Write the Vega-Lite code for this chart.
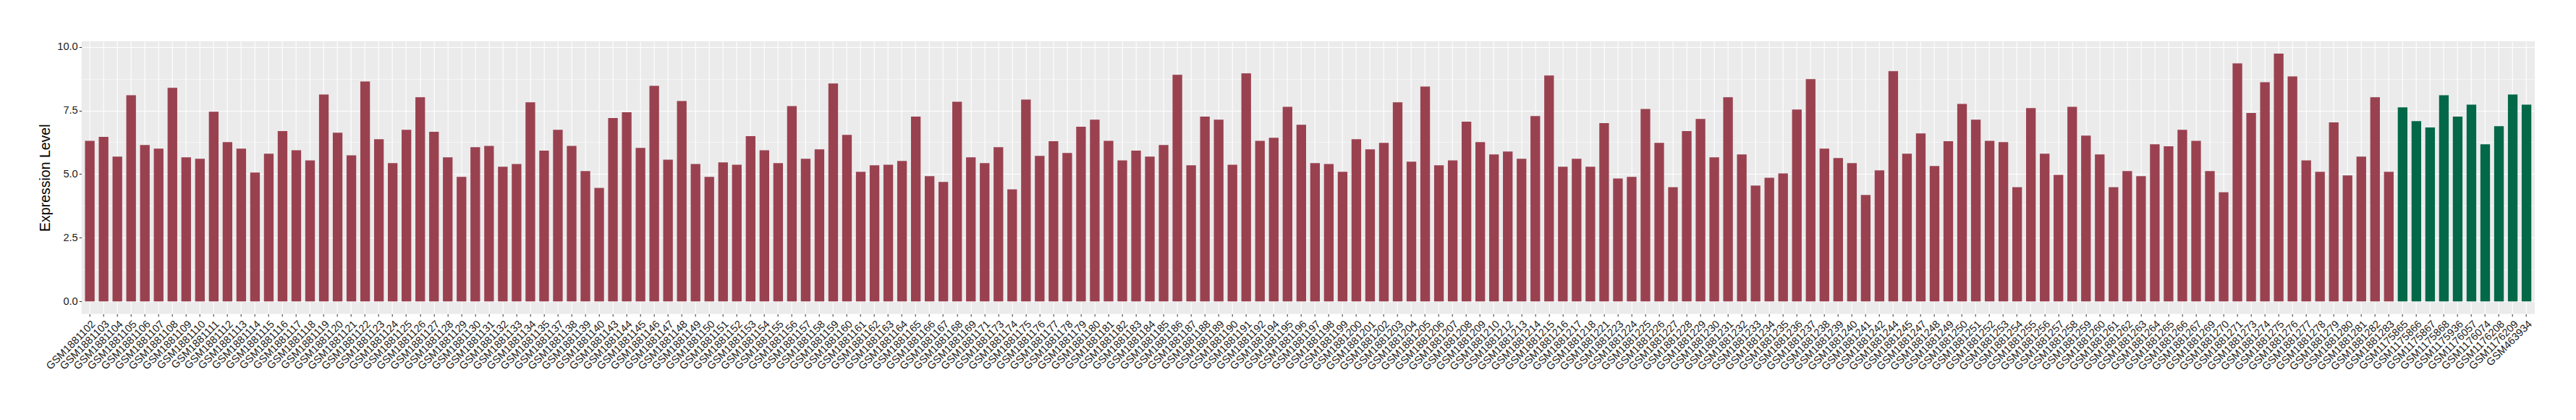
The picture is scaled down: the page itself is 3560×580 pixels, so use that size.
{
"$schema": "https://vega.github.io/schema/vega-lite/v6.json",
"autosize": "none",
"width": 3390.3,
"height": 376.4,
"padding": {"left": 112.7, "top": 57, "right": 57, "bottom": 146.6},
"background": "white",
"config": {"font": "Liberation Sans", "view": {"fill": "#EBEBEB", "stroke": null}},
"data": {"values": [
{"sample":"GSM1881102","value":6.31,"group":"A"},{"sample":"GSM1881103","value":6.46,"group":"A"},{"sample":"GSM1881104","value":5.69,"group":"A"},{"sample":"GSM1881105","value":8.10,"group":"A"},{"sample":"GSM1881106","value":6.14,"group":"A"},{"sample":"GSM1881107","value":6.00,"group":"A"},{"sample":"GSM1881108","value":8.39,"group":"A"},{"sample":"GSM1881109","value":5.66,"group":"A"},{"sample":"GSM1881110","value":5.60,"group":"A"},{"sample":"GSM1881111","value":7.45,"group":"A"},
{"sample":"GSM1881112","value":6.26,"group":"A"},{"sample":"GSM1881113","value":6.00,"group":"A"},{"sample":"GSM1881114","value":5.06,"group":"A"},{"sample":"GSM1881115","value":5.80,"group":"A"},{"sample":"GSM1881116","value":6.69,"group":"A"},{"sample":"GSM1881117","value":5.94,"group":"A"},{"sample":"GSM1881118","value":5.54,"group":"A"},{"sample":"GSM1881119","value":8.13,"group":"A"},{"sample":"GSM1881120","value":6.63,"group":"A"},{"sample":"GSM1881121","value":5.74,"group":"A"},
{"sample":"GSM1881122","value":8.64,"group":"A"},{"sample":"GSM1881123","value":6.37,"group":"A"},{"sample":"GSM1881124","value":5.43,"group":"A"},{"sample":"GSM1881125","value":6.74,"group":"A"},{"sample":"GSM1881126","value":8.02,"group":"A"},{"sample":"GSM1881127","value":6.66,"group":"A"},{"sample":"GSM1881128","value":5.66,"group":"A"},{"sample":"GSM1881129","value":4.89,"group":"A"},{"sample":"GSM1881130","value":6.06,"group":"A"},{"sample":"GSM1881131","value":6.11,"group":"A"},
{"sample":"GSM1881132","value":5.29,"group":"A"},{"sample":"GSM1881133","value":5.40,"group":"A"},{"sample":"GSM1881134","value":7.82,"group":"A"},{"sample":"GSM1881135","value":5.92,"group":"A"},{"sample":"GSM1881137","value":6.74,"group":"A"},{"sample":"GSM1881138","value":6.11,"group":"A"},{"sample":"GSM1881139","value":5.12,"group":"A"},{"sample":"GSM1881140","value":4.46,"group":"A"},{"sample":"GSM1881143","value":7.20,"group":"A"},{"sample":"GSM1881144","value":7.43,"group":"A"},
{"sample":"GSM1881145","value":6.03,"group":"A"},{"sample":"GSM1881146","value":8.47,"group":"A"},{"sample":"GSM1881147","value":5.57,"group":"A"},{"sample":"GSM1881148","value":7.87,"group":"A"},{"sample":"GSM1881149","value":5.40,"group":"A"},{"sample":"GSM1881150","value":4.89,"group":"A"},{"sample":"GSM1881151","value":5.46,"group":"A"},{"sample":"GSM1881152","value":5.37,"group":"A"},{"sample":"GSM1881153","value":6.49,"group":"A"},{"sample":"GSM1881154","value":5.94,"group":"A"},
{"sample":"GSM1881155","value":5.43,"group":"A"},{"sample":"GSM1881156","value":7.67,"group":"A"},{"sample":"GSM1881157","value":5.60,"group":"A"},{"sample":"GSM1881158","value":5.97,"group":"A"},{"sample":"GSM1881159","value":8.56,"group":"A"},{"sample":"GSM1881160","value":6.54,"group":"A"},{"sample":"GSM1881161","value":5.09,"group":"A"},{"sample":"GSM1881162","value":5.35,"group":"A"},{"sample":"GSM1881163","value":5.37,"group":"A"},{"sample":"GSM1881164","value":5.52,"group":"A"},
{"sample":"GSM1881165","value":7.26,"group":"A"},{"sample":"GSM1881166","value":4.92,"group":"A"},{"sample":"GSM1881167","value":4.69,"group":"A"},{"sample":"GSM1881168","value":7.84,"group":"A"},{"sample":"GSM1881169","value":5.66,"group":"A"},{"sample":"GSM1881171","value":5.43,"group":"A"},{"sample":"GSM1881173","value":6.06,"group":"A"},{"sample":"GSM1881174","value":4.40,"group":"A"},{"sample":"GSM1881175","value":7.93,"group":"A"},{"sample":"GSM1881176","value":5.72,"group":"A"},
{"sample":"GSM1881177","value":6.29,"group":"A"},{"sample":"GSM1881178","value":5.83,"group":"A"},{"sample":"GSM1881179","value":6.86,"group":"A"},{"sample":"GSM1881180","value":7.14,"group":"A"},{"sample":"GSM1881181","value":6.31,"group":"A"},{"sample":"GSM1881182","value":5.54,"group":"A"},{"sample":"GSM1881183","value":5.92,"group":"A"},{"sample":"GSM1881184","value":5.69,"group":"A"},{"sample":"GSM1881185","value":6.14,"group":"A"},{"sample":"GSM1881186","value":8.90,"group":"A"},
{"sample":"GSM1881187","value":5.35,"group":"A"},{"sample":"GSM1881188","value":7.26,"group":"A"},{"sample":"GSM1881189","value":7.14,"group":"A"},{"sample":"GSM1881190","value":5.37,"group":"A"},{"sample":"GSM1881191","value":8.96,"group":"A"},{"sample":"GSM1881192","value":6.31,"group":"A"},{"sample":"GSM1881194","value":6.43,"group":"A"},{"sample":"GSM1881195","value":7.64,"group":"A"},{"sample":"GSM1881196","value":6.94,"group":"A"},{"sample":"GSM1881197","value":5.43,"group":"A"},
{"sample":"GSM1881198","value":5.40,"group":"A"},{"sample":"GSM1881199","value":5.09,"group":"A"},{"sample":"GSM1881200","value":6.37,"group":"A"},{"sample":"GSM1881201","value":5.97,"group":"A"},{"sample":"GSM1881202","value":6.23,"group":"A"},{"sample":"GSM1881203","value":7.82,"group":"A"},{"sample":"GSM1881204","value":5.49,"group":"A"},{"sample":"GSM1881205","value":8.44,"group":"A"},{"sample":"GSM1881206","value":5.35,"group":"A"},{"sample":"GSM1881207","value":5.54,"group":"A"},
{"sample":"GSM1881208","value":7.06,"group":"A"},{"sample":"GSM1881209","value":6.26,"group":"A"},{"sample":"GSM1881210","value":5.77,"group":"A"},{"sample":"GSM1881212","value":5.89,"group":"A"},{"sample":"GSM1881213","value":5.60,"group":"A"},{"sample":"GSM1881214","value":7.28,"group":"A"},{"sample":"GSM1881215","value":8.87,"group":"A"},{"sample":"GSM1881216","value":5.29,"group":"A"},{"sample":"GSM1881217","value":5.60,"group":"A"},{"sample":"GSM1881218","value":5.29,"group":"A"},
{"sample":"GSM1881221","value":7.00,"group":"A"},{"sample":"GSM1881223","value":4.83,"group":"A"},{"sample":"GSM1881224","value":4.89,"group":"A"},{"sample":"GSM1881225","value":7.56,"group":"A"},{"sample":"GSM1881226","value":6.23,"group":"A"},{"sample":"GSM1881227","value":4.49,"group":"A"},{"sample":"GSM1881228","value":6.69,"group":"A"},{"sample":"GSM1881229","value":7.17,"group":"A"},{"sample":"GSM1881230","value":5.66,"group":"A"},{"sample":"GSM1881231","value":8.02,"group":"A"},
{"sample":"GSM1881232","value":5.77,"group":"A"},{"sample":"GSM1881233","value":4.55,"group":"A"},{"sample":"GSM1881234","value":4.86,"group":"A"},{"sample":"GSM1881235","value":5.03,"group":"A"},{"sample":"GSM1881236","value":7.54,"group":"A"},{"sample":"GSM1881237","value":8.73,"group":"A"},{"sample":"GSM1881238","value":6.00,"group":"A"},{"sample":"GSM1881239","value":5.63,"group":"A"},{"sample":"GSM1881240","value":5.43,"group":"A"},{"sample":"GSM1881241","value":4.18,"group":"A"},
{"sample":"GSM1881242","value":5.15,"group":"A"},{"sample":"GSM1881244","value":9.04,"group":"A"},{"sample":"GSM1881245","value":5.80,"group":"A"},{"sample":"GSM1881247","value":6.60,"group":"A"},{"sample":"GSM1881248","value":5.32,"group":"A"},{"sample":"GSM1881249","value":6.29,"group":"A"},{"sample":"GSM1881250","value":7.76,"group":"A"},{"sample":"GSM1881251","value":7.14,"group":"A"},{"sample":"GSM1881252","value":6.31,"group":"A"},{"sample":"GSM1881253","value":6.26,"group":"A"},
{"sample":"GSM1881254","value":4.49,"group":"A"},{"sample":"GSM1881255","value":7.59,"group":"A"},{"sample":"GSM1881256","value":5.80,"group":"A"},{"sample":"GSM1881257","value":4.97,"group":"A"},{"sample":"GSM1881258","value":7.64,"group":"A"},{"sample":"GSM1881259","value":6.51,"group":"A"},{"sample":"GSM1881260","value":5.77,"group":"A"},{"sample":"GSM1881261","value":4.49,"group":"A"},{"sample":"GSM1881262","value":5.12,"group":"A"},{"sample":"GSM1881263","value":4.92,"group":"A"},
{"sample":"GSM1881264","value":6.17,"group":"A"},{"sample":"GSM1881265","value":6.09,"group":"A"},{"sample":"GSM1881266","value":6.74,"group":"A"},{"sample":"GSM1881267","value":6.31,"group":"A"},{"sample":"GSM1881269","value":5.12,"group":"A"},{"sample":"GSM1881270","value":4.29,"group":"A"},{"sample":"GSM1881271","value":9.35,"group":"A"},{"sample":"GSM1881273","value":7.40,"group":"A"},{"sample":"GSM1881274","value":8.61,"group":"A"},{"sample":"GSM1881275","value":9.73,"group":"A"},
{"sample":"GSM1881276","value":8.84,"group":"A"},{"sample":"GSM1881277","value":5.54,"group":"A"},{"sample":"GSM1881278","value":5.09,"group":"A"},{"sample":"GSM1881279","value":7.03,"group":"A"},{"sample":"GSM1881280","value":4.95,"group":"A"},{"sample":"GSM1881281","value":5.69,"group":"A"},{"sample":"GSM1881282","value":8.02,"group":"A"},{"sample":"GSM1881283","value":5.09,"group":"A"},
{"sample":"GSM1175865","value":7.62,"group":"B"},{"sample":"GSM1175866","value":7.08,"group":"B"},{"sample":"GSM1175867","value":6.83,"group":"B"},{"sample":"GSM1175868","value":8.10,"group":"B"},{"sample":"GSM1175936","value":7.26,"group":"B"},{"sample":"GSM1176057","value":7.73,"group":"B"},{"sample":"GSM1176074","value":6.17,"group":"B"},{"sample":"GSM1176208","value":6.88,"group":"B"},{"sample":"GSM1176209","value":8.13,"group":"B"},{"sample":"GSM463934","value":7.73,"group":"B"}
]},
"layer": [
{
"mark": {"type": "bar"},
"encoding": {
"x": {"field": "sample", "type": "nominal", "sort": null,
"scale": {"paddingInner": 0.3, "paddingOuter": 0.25},
"axis": {"title": null, "grid": true, "bandPosition": 0.5, "gridColor": "white", "gridWidth": 1.1, "domain": false, "ticks": true, "tickSize": 3.5, "tickColor": "#333333", "tickWidth": 1, "labelAngle": -45, "labelAlign": "right", "labelBaseline": "top", "labelFontSize": 14.6, "labelColor": "#1A1A1A", "labelPadding": 2.5, "labelOverlap": false, "labelFont": "Liberation Sans"}},
"y": {"field": "value", "type": "quantitative",
"scale": {"domain": [-0.4865, 10.2165], "nice": false, "zero": false},
"axis": {"title": "Expression Level", "titleFontSize": 19.5, "titleFontWeight": "normal", "titleColor": "black", "titlePadding": 6, "values": [0, 2.5, 5, 7.5, 10], "format": ".1f", "grid": true, "gridColor": "white", "gridWidth": 1.1, "domain": false, "tickSize": 3.5, "tickColor": "#333333", "labelFontSize": 14.6, "labelColor": "#1A1A1A", "labelPadding": 2}},
"y2": {"datum": 0},
"color": {"field": "group", "type": "nominal", "scale": {"domain": ["A", "B"], "range": ["#9A4150", "#026848"]}, "legend": null}
}
},
{
"mark": {"type": "rule", "opacity": 0},
"encoding": {
"y": {"datum": 0, "type": "quantitative",
"axis": {"title": null, "orient": "left", "values": [1.25, 3.75, 6.25, 8.75], "grid": true, "gridColor": "white", "gridWidth": 0.55, "domain": false, "ticks": false, "labels": false}}
}
}
],
"resolve": {"axis": {"y": "independent"}}
}
